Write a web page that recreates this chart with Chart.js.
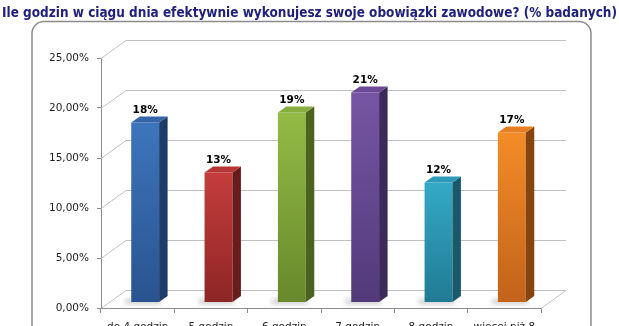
<!DOCTYPE html>
<html lang="pl">
<head>
<meta charset="utf-8">
<title>Efektywne godziny pracy</title>
<script src="https://cdn.jsdelivr.net/npm/chart.js@4.4.1/dist/chart.umd.min.js"></script>
<style>
  html, body { margin: 0; padding: 0; background: #fff; overflow: hidden; }
  #wrap { width: 619px; height: 326px; overflow: hidden; }
  canvas { display: block; }
</style>
</head>
<body>
<div id="wrap"><canvas id="myChart" width="619" height="345"></canvas></div>
<script>
const title = 'Ile godzin w ciągu dnia efektywnie wykonujesz swoje obowiązki zawodowe? (% badanych)';
const categories = ['do 4 godzin', '5 godzin', '6 godzin', '7 godzin', '8 godzin', ['więcej niż 8', 'godzin']];
const shares = [18, 13, 19, 21, 12, 17];   // % badanych
const yTicks = [0, 5, 10, 15, 20, 25];

// bar colours: front (top -> bottom), side, lid
const frontTop    = ['#3d75bc', '#c43d3c', '#93bb45', '#7655a4', '#34a9c7', '#f48c27'];
const frontBottom = ['#29538f', '#8e2525', '#68882b', '#523a7a', '#217a93', '#c2621a'];
const sides       = ['#1f3c69', '#6a1c1c', '#4b631f', '#3c2a5a', '#19596c', '#884410'];
const tops        = ['#3566a7', '#b53635', '#86ad3d', '#6a4a96', '#2e9ab7', '#e67f21'];

// fake 3d: back wall offset, and where the bars sit in the depth
const DEPTH_X = 25, DEPTH_Y = -18;
const BAR_FRONT = 0.3, BAR_DEPTH = 0.34;

const font = 'DejaVu Sans';

const frame = {
    id: 'frame',
    beforeDraw(chart) {
        const ctx = chart.ctx;
        ctx.save();
        // title, squeezed a bit so it fits the width
        ctx.font = 'bold 13.5px "' + font + '"';
        ctx.fillStyle = '#20207f';
        ctx.textBaseline = 'alphabetic';
        const w = ctx.measureText(title).width;
        const sx = Math.min(1, 615 / w);
        ctx.translate(309.5, 0);
        ctx.scale(sx, 1);
        ctx.textAlign = 'center';
        ctx.fillText(title, 0, 17);
        ctx.restore();

        ctx.save();
        ctx.strokeStyle = '#8c8c8c';
        ctx.lineWidth = 1.5;
        ctx.beginPath();
        ctx.roundRect(32, 21.5, 559, 400, 12);
        ctx.stroke();
        ctx.restore();
    }
};

const bars3d = {
    id: 'bars3d',
    beforeDatasetsDraw(chart) {
        const {ctx, scales: {x, y}} = chart;
        const left = x.left, right = x.right;
        const base = y.getPixelForValue(0);
        ctx.save();
        ctx.strokeStyle = '#c0c0c0';
        ctx.lineWidth = 1;
        yTicks.forEach(v => {
            const py = Math.round(y.getPixelForValue(v)) + 0.5;
            ctx.beginPath();
            ctx.moveTo(left, py);
            ctx.lineTo(left + DEPTH_X, py + DEPTH_Y);
            ctx.lineTo(right + DEPTH_X, py + DEPTH_Y);
            ctx.stroke();
        });
        // right edge of the floor
        ctx.beginPath();
        ctx.moveTo(right, Math.round(base) + 0.5);
        ctx.lineTo(right + DEPTH_X, Math.round(base) + 0.5 + DEPTH_Y);
        ctx.stroke();

        // soft shadows under the bars
        const ox = DEPTH_X * BAR_FRONT, oy = DEPTH_Y * BAR_FRONT;
        ctx.filter = 'blur(2.5px)';
        ctx.fillStyle = 'rgba(0,0,0,0.25)';
        chart.getDatasetMeta(0).data.forEach(bar => {
            ctx.fillRect(bar.x - bar.width / 2 + ox - 6, base + oy - 3, bar.width + 8, 4);
        });
        ctx.filter = 'none';
        ctx.restore();

        // front faces get pushed back into the floor
        ctx.save();
        ctx.translate(ox, oy);
    },
    afterDatasetsDraw(chart) {
        const ctx = chart.ctx;
        ctx.restore();
        const ox = DEPTH_X * BAR_FRONT, oy = DEPTH_Y * BAR_FRONT;
        const dx = DEPTH_X * BAR_DEPTH, dy = DEPTH_Y * BAR_DEPTH;
        ctx.save();
        chart.getDatasetMeta(0).data.forEach((bar, i) => {
            const {x, y, base, width} = bar.getProps(['x', 'y', 'base', 'width'], true);
            const l = x - width / 2 + ox, r = x + width / 2 + ox;
            const t = y + oy, b = base + oy;

            ctx.fillStyle = sides[i];
            ctx.beginPath();
            ctx.moveTo(r, t);
            ctx.lineTo(r + dx, t + dy);
            ctx.lineTo(r + dx, b + dy);
            ctx.lineTo(r, b);
            ctx.closePath();
            ctx.fill();

            ctx.fillStyle = tops[i];
            ctx.beginPath();
            ctx.moveTo(l, t);
            ctx.lineTo(l + dx, t + dy);
            ctx.lineTo(r + dx, t + dy);
            ctx.lineTo(r, t);
            ctx.closePath();
            ctx.fill();

            ctx.fillStyle = '#000';
            ctx.font = 'bold 10.5px "' + font + '"';
            ctx.textAlign = 'center';
            ctx.textBaseline = 'alphabetic';
            ctx.fillText(shares[i] + '%', x + ox, t - 10);
        });
        ctx.restore();
    }
};

function frontColor(c) {
    const i = c.dataIndex;
    const chart = c.chart;
    if (i === undefined || !chart.chartArea) return frontTop[0];
    const ys = chart.scales.y;
    const g = chart.ctx.createLinearGradient(0, ys.getPixelForValue(shares[i]), 0, ys.getPixelForValue(0));
    g.addColorStop(0, frontTop[i]);
    g.addColorStop(1, frontBottom[i]);
    return g;
}

const ctx = document.getElementById('myChart').getContext('2d');
const myChart = new Chart(ctx, {
    type: 'bar',
    data: {
        labels: categories,
        datasets: [{
            data: shares,
            backgroundColor: frontColor,
            borderWidth: 0,
            categoryPercentage: 1,
            barPercentage: 0.38
        }]
    },
    options: {
        responsive: false,
        devicePixelRatio: 1,
        animation: false,
        events: [],
        layout: { padding: { left: 32, right: 78, top: 58, bottom: 0 } },
        plugins: {
            legend: { display: false },
            tooltip: { enabled: false }
        },
        scales: {
            x: {
                offset: true,
                grid: { offset: true, drawOnChartArea: false, tickLength: 5, color: '#8a8a8a' },
                border: { color: '#8a8a8a' },
                ticks: {
                    color: '#1e1e1e',
                    font: { family: font, size: 10.5 },
                    padding: 8,
                    maxRotation: 0,
                    autoSkip: false
                },
                afterFit(s) { s.height = 37; }
            },
            y: {
                min: 0,
                max: 25,
                afterBuildTicks(s) { s.ticks = yTicks.map(v => ({ value: v })); },
                grid: { drawOnChartArea: false, tickLength: 4, color: '#8a8a8a' },
                border: { color: '#8a8a8a' },
                ticks: {
                    color: '#1e1e1e',
                    font: { family: font, size: 10.5 },
                    padding: 8,
                    callback: v => v.toFixed(2).replace('.', ',') + '%'
                },
                afterFit(s) { s.width = 69; }
            }
        }
    },
    plugins: [frame, bars3d]
});
</script>
</body>
</html>
